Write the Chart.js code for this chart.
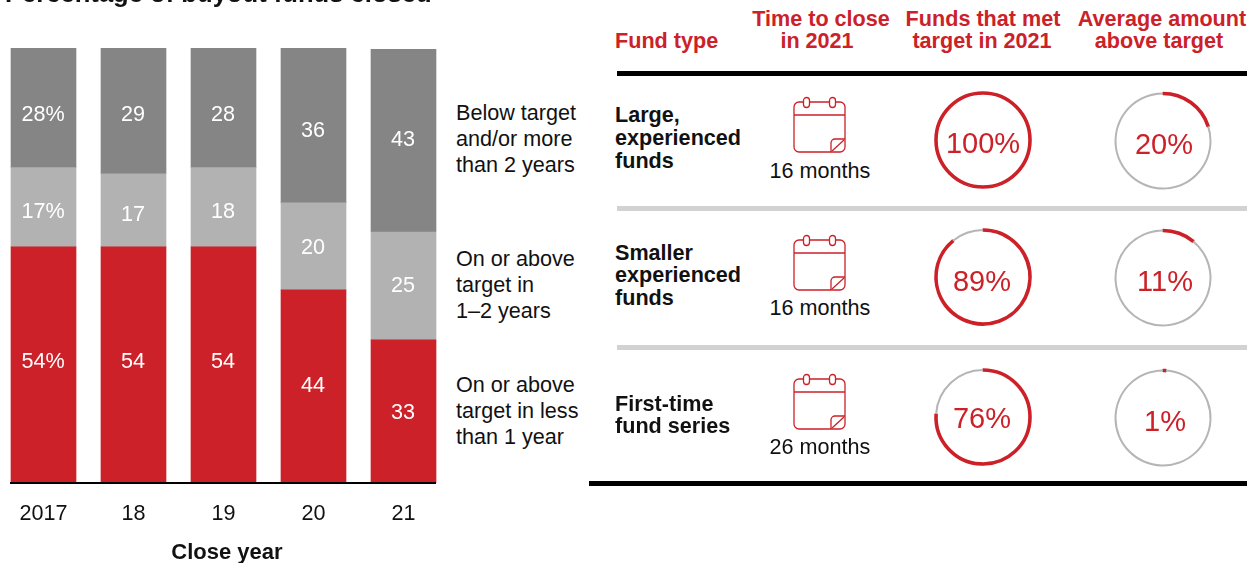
<!DOCTYPE html>
<html><head><meta charset="utf-8">
<script src="https://cdn.jsdelivr.net/npm/chart.js@4/dist/chart.umd.js"></script>
<style>
html,body{margin:0;padding:0;background:#fff;width:1255px;height:563px;overflow:hidden;font-family:"Liberation Sans",Arial,sans-serif}
#stage{position:relative;width:1255px;height:563px;overflow:hidden}
canvas{position:absolute}
.t{position:absolute;white-space:nowrap;line-height:1;transform:translateY(-50%)}
.c{transform:translate(-50%,-50%)}
.rule{position:absolute}
svg{position:absolute}
</style></head><body><div id="stage"></div>
<script>
const years=['2017','18','19','20','21'];
const redShare=[54.3,54.3,54.3,44.4,32.9];
const lightShare=[18.2,16.8,18.2,20.0,24.8];
const darkShare=[27.6,29.0,27.6,35.6,42.0];
const redLabels=['54%','54','54','44','33'];
const lightLabels=['17%','17','18','20','25'];
const darkLabels=['28%','29','28','36','43'];
const legendLabels=[['Below target','and/or more','than 2 years'],['On or above','target in','1–2 years'],['On or above','target in less','than 1 year']];
const fundTypes=[['Large,','experienced','funds'],['Smaller','experienced','funds'],['First-time','fund series']];
const timeToClose=['16 months','16 months','26 months'];
const metTarget=[100,89,76];
const aboveTarget=[20,11,1];
const RED='#cc2128',DARK='#858585',LIGHT='#b2b2b2';
const stage=document.getElementById('stage');

function text(str,x,y,o={}){
  const d=document.createElement('div');
  d.className='t'+(o.center?' c':'');
  d.textContent=str;
  d.style.left=x+'px';d.style.top=y+'px';
  d.style.fontSize=(o.size||21.6)+'px';
  d.style.fontWeight=o.bold?'700':'400';
  d.style.color=o.color||'#111';
  stage.appendChild(d);
}
function rule(x,y,w,h,c){
  const d=document.createElement('div');d.className='rule';
  d.style.cssText+=`left:${x}px;top:${y}px;width:${w}px;height:${h}px;background:${c}`;
  stage.appendChild(d);
}

// stacked bars
const barCanvas=document.createElement('canvas');
barCanvas.style.left='-2px';barCanvas.style.top='0';
barCanvas.width=451;barCanvas.height=563;barCanvas.style.width='451px';barCanvas.style.height='563px';
stage.appendChild(barCanvas);

const segLabels=[redLabels,lightLabels,darkLabels];
// the source sets its labels slightly off the segment centres
const labelNudge=[[-3,-3,-3,0,2],[5,5,5,2,0],[7,4,7,6,-1]];
const barExtras={id:'barExtras',afterDatasetsDraw(chart){
  const ctx=chart.ctx;
  ctx.save();
  ctx.fillStyle='#fff';ctx.font='21.6px "Liberation Sans"';ctx.textAlign='center';ctx.textBaseline='middle';
  chart.data.datasets.forEach((ds,i)=>{
    chart.getDatasetMeta(i).data.forEach((b,j)=>{
      ctx.fillText(segLabels[i][j],b.x-.5,(b.y+b.base)/2+labelNudge[i][j]);
    });
  });
  const m=chart.getDatasetMeta(0).data, y=chart.scales.y.getPixelForValue(0);
  ctx.strokeStyle='#000';ctx.lineWidth=2;
  ctx.beginPath();
  ctx.moveTo(m[0].x-m[0].width/2-1,y);
  ctx.lineTo(m[4].x+m[4].width/2,y);
  ctx.stroke();
  ctx.restore();
}};
new Chart(barCanvas,{
  type:'bar',
  data:{labels:years,datasets:[
    {label:'On or above target in less than 1 year',data:redShare,backgroundColor:RED},
    {label:'On or above target in 1–2 years',data:lightShare,backgroundColor:LIGHT},
    {label:'Below target and/or more than 2 years',data:darkShare,backgroundColor:DARK}
  ]},
  plugins:[barExtras],
  options:{
    responsive:false,animation:false,
    layout:{padding:{top:48,left:.5,right:.5,bottom:26}},
    plugins:{legend:{display:false},tooltip:{enabled:false}},
    datasets:{bar:{barThickness:65,borderWidth:0}},
    scales:{
      x:{stacked:true,grid:{display:false},border:{display:false},
         ticks:{color:'#111',font:{size:21.6,family:'"Liberation Sans"'},padding:10,maxRotation:0}},
      y:{stacked:true,display:false,min:0,max:100}
    }
  }
});
text('Close year',227,552,{center:true,bold:true,size:22});

// gauges
function gauge(value,cx,cy,r,tx,ty){
  const c=document.createElement('canvas');
  const S=112;
  c.width=S;c.height=S;c.style.width=S+'px';c.style.height=S+'px';
  c.style.left=(cx-S/2)+'px';c.style.top=(cy-S/2)+'px';
  stage.appendChild(c);
  new Chart(c,{
    type:'doughnut',
    data:{datasets:[{data:[value,100-value],
      backgroundColor:[RED,'#b5b5b5'],
      borderColor:[RED,'#b5b5b5'],
      borderWidth:[1.6,0],borderAlign:'center'}]},
    options:{responsive:false,animation:false,
      radius:r,cutout:((1-2/r)*100)+'%',
      plugins:{legend:{display:false},tooltip:{enabled:false}}}
  });
  text(value+'%',tx,ty,{center:true,size:29,color:RED});
}
gauge(metTarget[0],983,140,48,983,143);
gauge(metTarget[1],983,277,48,982,281);
gauge(metTarget[2],983,417,48,982,418);
gauge(aboveTarget[0],1163,141,48.5,1164,144);
gauge(aboveTarget[1],1163,278,48.5,1165,281);
gauge(aboveTarget[2],1163,418,48.5,1165,421);

// calendar icons
function calendar(x,y){
  const ns='http://www.w3.org/2000/svg';
  const s=document.createElementNS(ns,'svg');
  s.setAttribute('width','56');s.setAttribute('height','58');
  s.style.left=x+'px';s.style.top=y+'px';
  s.innerHTML=`<g fill="none" stroke="${RED}" stroke-width="1.3">
  <rect x="2" y="6" width="51" height="50" rx="5"/>
  <line x1="2" y1="19" x2="53" y2="19"/>
  <rect x="11.5" y="1.5" width="6" height="10" rx="3" fill="#fff"/>
  <rect x="37.5" y="1.5" width="6" height="10" rx="3" fill="#fff"/>
  <path d="M39 56 V47 a4 4 0 0 1 4 -4 H53"/>
  <line x1="40" y1="55" x2="52" y2="44"/></g>`;
  stage.appendChild(s);
}
[96,234,373].forEach(y=>calendar(792,y));

// right table
text('Fund type',615,41,{bold:true,color:RED});
[['Time to close','in 2021',821,817],['Funds that met','target in 2021',983,982],['Average amount','above target',1162,1159]].forEach(h=>{
  text(h[0],h[2],19,{bold:true,color:RED,center:true});
  text(h[1],h[3],41,{bold:true,color:RED,center:true});
});
rule(617,71,630,5,'#000');
rule(617,206,630,5,'#d2d2d2');
rule(617,345,630,5,'#d2d2d2');
rule(589,481,658,5,'#000');
const fundY=[[115,138,161],[253,275,298],[404,426]];
fundTypes.forEach((lines,i)=>lines.forEach((l,j)=>text(l,615,fundY[i][j],{bold:true,color:'#111'})));
[171,308,447].forEach((y,i)=>text(timeToClose[i],820,y,{center:true}));

// series key + title
const legendY=[[113,139,165],[259,285,311],[385,411,437]];
legendLabels.forEach((lines,i)=>lines.forEach((l,j)=>text(l,456,legendY[i][j])));
text('Percentage of buyout funds closed',5,-6,{bold:true,size:25.6});
</script></body></html>
